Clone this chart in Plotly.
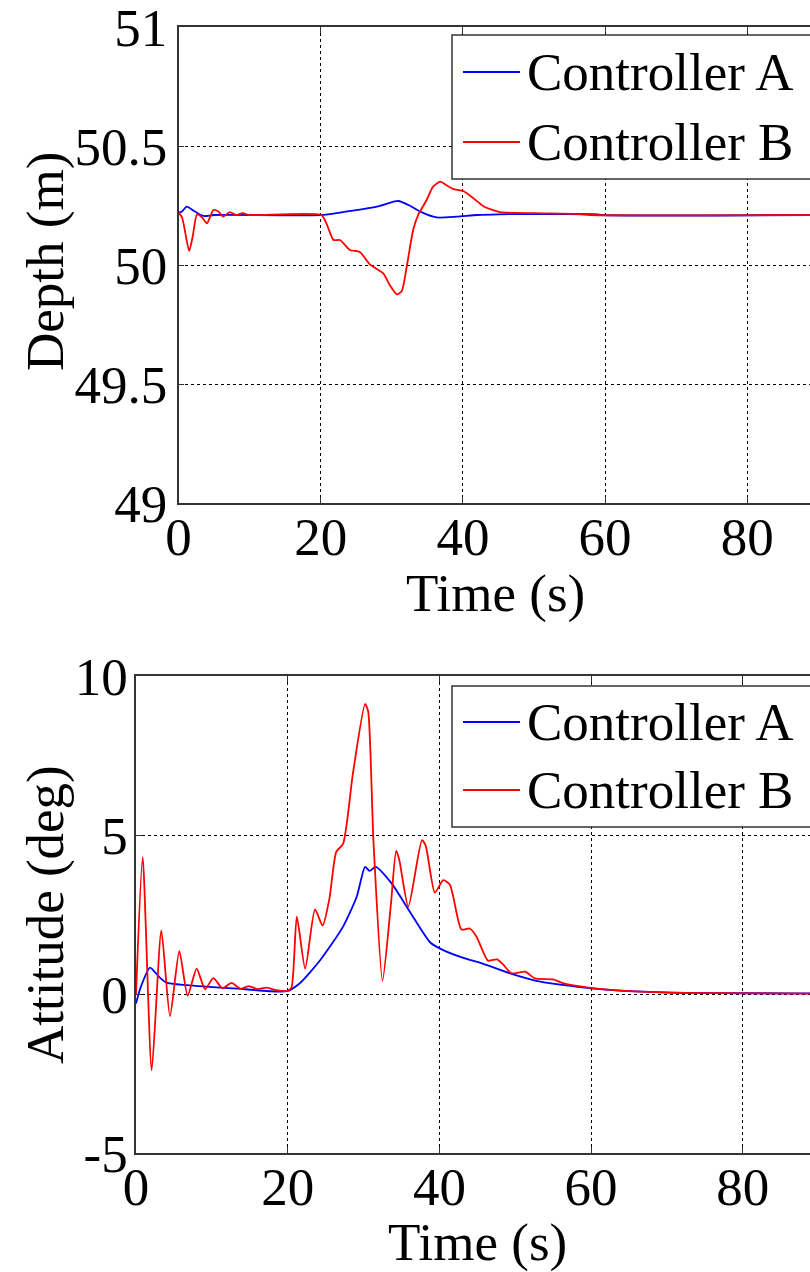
import plotly.graph_objects as go

W, H = 810, 1272
FONT = "Liberation Serif"
FS = 53

series_names = ["Controller A", "Controller B"]
line_colors = ["#0000ff", "#ff0000"]

# ---- Depth (top) ----
depth_t_a = [0, 0.45, 1.15, 2.3, 3.5, 5, 20, 23.1, 27.9, 30.9, 32.5, 34, 36.3, 39.1, 42, 45, 59, 59.5, 90]
depth_a = [50.22, 50.224, 50.245, 50.225, 50.206, 50.21, 50.21, 50.222, 50.245, 50.269, 50.25, 50.224,
           50.2, 50.203, 50.21, 50.213, 50.213, 50.21, 50.21]
depth_t_b = [0, 0.5, 1.5, 2.0, 2.6, 3.3, 4.0, 4.9, 5.6, 6.3, 7.2, 8.1, 9.0, 10, 20.1, 20.8, 21.8, 22.7,
             24.1, 25.5, 26.9, 28.8, 29.7, 30.7, 31.4, 32.1, 33.0, 33.7, 34.9, 35.8, 36.8, 37.7, 38.6,
             40.1, 41.5, 43, 45.2, 50, 56, 58, 90]
depth_b = [50.22, 50.2, 50.059, 50.12, 50.213, 50.2, 50.175, 50.231, 50.225, 50.203, 50.222, 50.21,
           50.218, 50.21, 50.21, 50.175, 50.105, 50.105, 50.063, 50.055, 50.003, 49.965, 49.916, 49.877,
           49.89, 49.993, 50.147, 50.21, 50.273, 50.329, 50.35, 50.335, 50.32, 50.31, 50.28, 50.245,
           50.222, 50.218, 50.215, 50.21, 50.21]

# ---- Attitude (bottom) ----
att_t_a = [0, 0.6, 1.85, 3.0, 4.0, 6.7, 12.8, 19.9, 21.6, 24.3, 27.3, 29.1, 30.2, 30.8, 31.6, 33.7,
           36.1, 38.8, 40.5, 44.0, 45.4, 49.3, 53.3, 59.9, 69.5, 87.1, 90]
att_a = [-0.3, 0.2, 0.83, 0.55, 0.36, 0.28, 0.18, 0.09, 0.34, 1.07, 2.12, 3.06, 4.0, 3.87, 4.0, 3.48,
         2.59, 1.62, 1.38, 1.07, 0.98, 0.65, 0.39, 0.18, 0.05, 0.02, 0.02]
att_t_b = [0, 0.88, 2.07, 3.34, 4.48, 5.71, 6.81, 8.0, 9.1, 10.2, 11.4, 12.6, 13.8, 14.9, 16.0, 17.2,
           18.5, 20.0, 20.5, 21.2, 22.3, 23.6, 24.6, 25.5, 26.4, 27.3, 28.6, 30.2, 30.6, 31.3, 32.5,
           33.6, 34.3, 34.7, 35.9, 37.7, 38.2, 39.4, 40.5, 41.4, 42.9, 44.0, 44.9, 46.4, 47.6, 48.4,
           49.5, 51.3, 52.6, 55.0, 56.3, 59.4, 63, 69.5, 75, 80, 90]
att_b = [0.0, 4.3, -2.4, 2.0, -0.7, 1.35, -0.05, 0.8, 0.15, 0.5, 0.18, 0.35, 0.16, 0.25, 0.15, 0.2,
         0.12, 0.1, 0.2, 2.43, 0.8, 2.66, 2.15, 3.0, 4.47, 4.72, 6.94, 9.12, 8.9, 4.84, 0.42,
         2.8, 4.5, 4.23, 2.75, 4.84, 4.66, 3.19, 3.58, 3.43, 2.03, 2.06, 1.80, 1.05, 1.09, 0.93,
         0.65, 0.70, 0.49, 0.46, 0.34, 0.21, 0.12, 0.05, 0.03, 0.02, 0.01]

depth_ticks = [49, 49.5, 50, 50.5, 51]
depth_labels = ["49", "49.5", "50", "50.5", "51"]
att_ticks = [-5, 0, 5, 10]
att_labels = ["-5", "0", "5", "10"]
time_ticks = [0, 20, 40, 60, 80]
time_labels = ["0", "20", "40", "60", "80"]


def px(x):
    return x / W


def py(y):
    return 1 - y / H


fig = go.Figure()
line_style = dict(width=1.8, shape="spline", smoothing=0.6)
fig.add_trace(go.Scatter(x=depth_t_a, y=depth_a, mode="lines", name=series_names[0],
                         line=dict(color=line_colors[0], **line_style), xaxis="x", yaxis="y"))
fig.add_trace(go.Scatter(x=depth_t_b, y=depth_b, mode="lines", name=series_names[1],
                         line=dict(color=line_colors[1], **line_style), xaxis="x", yaxis="y"))
fig.add_trace(go.Scatter(x=att_t_a, y=att_a, mode="lines", name=series_names[0],
                         line=dict(color=line_colors[0], **line_style), xaxis="x2", yaxis="y2"))
fig.add_trace(go.Scatter(x=att_t_b, y=att_b, mode="lines", name=series_names[1],
                         line=dict(color=line_colors[1], **line_style), xaxis="x2", yaxis="y2"))

tickfont = dict(family=FONT, size=FS, color="black")
common_x = dict(showline=True, linecolor="#333333", linewidth=1.5, mirror="ticks",
                ticks="inside", ticklen=6, tickcolor="#333333", tickwidth=1,
                showgrid=True, gridcolor="black", gridwidth=1, griddash="dot",
                zeroline=False, tickfont=tickfont, tickvals=time_ticks, ticktext=time_labels,
                automargin=False, ticklabeloverflow="allow", ticklabelstandoff=-13)
common_y = dict(showline=True, linecolor="#333333", linewidth=1.5, mirror=False,
                ticks="inside", ticklen=6, tickcolor="#333333", tickwidth=1,
                showgrid=True, gridcolor="black", gridwidth=1, griddash="dot",
                zeroline=False, tickfont=tickfont, automargin=False, ticklabeloverflow="allow")

fig.update_layout(
    width=W, height=H, margin=dict(l=0, r=0, t=0, b=0, autoexpand=False),
    paper_bgcolor="white", plot_bgcolor="white", showlegend=False,
    font=dict(family=FONT, size=FS, color="black"),
    xaxis=dict(domain=[px(178.5), 1], range=[0, 88.82], anchor="y", **common_x),
    yaxis=dict(domain=[py(503), py(27)], range=[49, 51], anchor="x",
               tickvals=depth_ticks, ticktext=depth_labels, ticklabelstandoff=-1, **common_y),
    xaxis2=dict(domain=[px(136), 1], range=[0, 88.86], anchor="y2", **common_x),
    yaxis2=dict(domain=[py(1153), py(676)], range=[-5, 10], anchor="x2",
                tickvals=att_ticks, ticktext=att_labels, ticklabelstandoff=-4, **common_y),
)

annotations = [
    dict(text="Depth (m)", x=px(45), y=py(262), textangle=-90),
    dict(text="Attitude (deg)", x=px(45), y=py(915), textangle=-90),
    dict(text="Time (s)", x=px(495), y=py(593)),
    dict(text="Time (s)", x=px(477), y=py(1242)),
]
shapes = []
# custom legends (top and bottom)
for box_top, box_bot, line_ys in [(35, 179, (72, 142)), (686, 827, (722, 790))]:
    shapes.append(dict(type="rect", xref="paper", yref="paper", x0=px(452), x1=px(860),
                       y0=py(box_bot), y1=py(box_top), line=dict(color="#333333", width=1.5),
                       fillcolor="white", layer="above"))
    for name, color, ly in zip(series_names, line_colors, line_ys):
        shapes.append(dict(type="line", xref="paper", yref="paper", x0=px(463), x1=px(520),
                           y0=py(ly), y1=py(ly), line=dict(color=color, width=1.8), layer="above"))
        annotations.append(dict(text=name, x=px(525), y=py(ly), xanchor="left"))

for a in annotations:
    a.setdefault("xanchor", "center")
    a.update(xref="paper", yref="paper", yanchor="middle", showarrow=False,
             font=dict(family=FONT, size=FS, color="black"))

fig.update_layout(annotations=annotations, shapes=shapes)
fig.write_html("out.html")
